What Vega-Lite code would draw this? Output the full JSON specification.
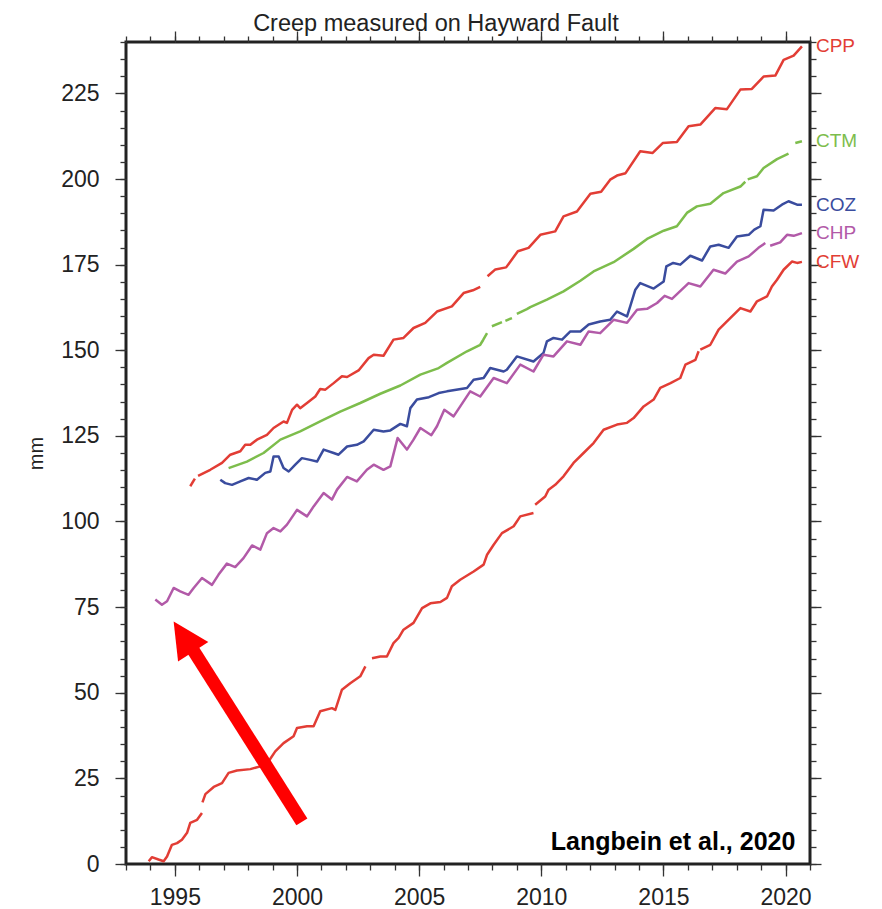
{
  "$schema": "https://vega.github.io/schema/vega-lite/v6.json",
  "width": 684,
  "height": 822,
  "autosize": "none",
  "padding": {"left": 126, "top": 42, "right": 72, "bottom": 45},
  "background": "white",
  "title": {"text": "Creep measured on Hayward Fault", "font": "Liberation Sans", "fontSize": 23.5, "fontWeight": "normal", "color": "#222222", "anchor": "middle", "frame": "group", "dx": -32, "offset": -5},
  "config": {
    "view": {"stroke": "#222222", "strokeWidth": 3},
    "axis": {"domain": false, "grid": false, "tickColor": "#333333", "tickWidth": 1.3, "labelFont": "Liberation Sans", "labelFontSize": 23, "labelColor": "#222222", "labelOverlap": false, "labelFlush": false, "titleFont": "Liberation Sans", "titleFontSize": 20, "titleFontWeight": "normal", "titleColor": "#222222"}
  },
  "datasets": {
    "creep": [
      {"s":"CPP","g":"CPP1","x":1995.63,"y":110.3},{"s":"CPP","g":"CPP1","x":1995.82,"y":112.5},
      {"s":"CPP","g":"CPP2","x":1995.95,"y":113.3},{"s":"CPP","g":"CPP2","x":1996.45,"y":115.1},{"s":"CPP","g":"CPP2","x":1996.93,"y":117.1},{"s":"CPP","g":"CPP2","x":1997.27,"y":119.5},{"s":"CPP","g":"CPP2","x":1997.68,"y":120.5},{"s":"CPP","g":"CPP2","x":1997.88,"y":122.4},{"s":"CPP","g":"CPP2","x":1998.09,"y":122.4},{"s":"CPP","g":"CPP2","x":1998.36,"y":123.9},{"s":"CPP","g":"CPP2","x":1998.77,"y":125.3},{"s":"CPP","g":"CPP2","x":1999.04,"y":127.3},{"s":"CPP","g":"CPP2","x":1999.45,"y":129.2},{"s":"CPP","g":"CPP2","x":1999.59,"y":128.8},{"s":"CPP","g":"CPP2","x":1999.8,"y":132.6},{"s":"CPP","g":"CPP2","x":2000.0,"y":134.1},{"s":"CPP","g":"CPP2","x":2000.13,"y":133.1},{"s":"CPP","g":"CPP2","x":2000.41,"y":134.6},{"s":"CPP","g":"CPP2","x":2000.75,"y":136.5},{"s":"CPP","g":"CPP2","x":2000.95,"y":138.7},{"s":"CPP","g":"CPP2","x":2001.16,"y":138.5},{"s":"CPP","g":"CPP2","x":2001.5,"y":140.4},{"s":"CPP","g":"CPP2","x":2001.84,"y":142.4},{"s":"CPP","g":"CPP2","x":2002.05,"y":142.2},{"s":"CPP","g":"CPP2","x":2002.52,"y":144.1},{"s":"CPP","g":"CPP2","x":2002.93,"y":147.7},{"s":"CPP","g":"CPP2","x":2003.14,"y":148.7},{"s":"CPP","g":"CPP2","x":2003.54,"y":148.4},{"s":"CPP","g":"CPP2","x":2003.95,"y":153.1},{"s":"CPP","g":"CPP2","x":2004.36,"y":153.6},{"s":"CPP","g":"CPP2","x":2004.77,"y":156.5},{"s":"CPP","g":"CPP2","x":2005.25,"y":158.0},{"s":"CPP","g":"CPP2","x":2005.73,"y":161.3},{"s":"CPP","g":"CPP2","x":2006.34,"y":162.8},{"s":"CPP","g":"CPP2","x":2006.82,"y":166.7},{"s":"CPP","g":"CPP2","x":2007.2,"y":167.5},{"s":"CPP","g":"CPP2","x":2007.5,"y":168.5},
      {"s":"CPP","g":"CPP3","x":2007.8,"y":171.6},{"s":"CPP","g":"CPP3","x":2008.12,"y":173.6},{"s":"CPP","g":"CPP3","x":2008.56,"y":174.2},{"s":"CPP","g":"CPP3","x":2009.04,"y":178.9},{"s":"CPP","g":"CPP3","x":2009.48,"y":179.9},{"s":"CPP","g":"CPP3","x":2009.96,"y":183.7},{"s":"CPP","g":"CPP3","x":2010.57,"y":184.7},{"s":"CPP","g":"CPP3","x":2010.91,"y":189.1},{"s":"CPP","g":"CPP3","x":2011.46,"y":190.5},{"s":"CPP","g":"CPP3","x":2012.01,"y":195.7},{"s":"CPP","g":"CPP3","x":2012.45,"y":196.3},{"s":"CPP","g":"CPP3","x":2012.82,"y":199.8},{"s":"CPP","g":"CPP3","x":2013.1,"y":201.0},{"s":"CPP","g":"CPP3","x":2013.45,"y":201.7},{"s":"CPP","g":"CPP3","x":2014.05,"y":208.1},{"s":"CPP","g":"CPP3","x":2014.56,"y":207.6},{"s":"CPP","g":"CPP3","x":2014.97,"y":210.5},{"s":"CPP","g":"CPP3","x":2015.55,"y":210.8},{"s":"CPP","g":"CPP3","x":2016.03,"y":215.4},{"s":"CPP","g":"CPP3","x":2016.51,"y":215.9},{"s":"CPP","g":"CPP3","x":2017.12,"y":220.7},{"s":"CPP","g":"CPP3","x":2017.6,"y":220.4},{"s":"CPP","g":"CPP3","x":2018.15,"y":226.1},{"s":"CPP","g":"CPP3","x":2018.62,"y":226.3},{"s":"CPP","g":"CPP3","x":2019.1,"y":229.9},{"s":"CPP","g":"CPP3","x":2019.58,"y":230.2},{"s":"CPP","g":"CPP3","x":2019.92,"y":234.8},{"s":"CPP","g":"CPP3","x":2020.33,"y":236.0},{"s":"CPP","g":"CPP3","x":2020.67,"y":238.7},

      {"s":"CTM","g":"CTM1","x":1997.2,"y":115.6},{"s":"CTM","g":"CTM1","x":1997.95,"y":117.5},{"s":"CTM","g":"CTM1","x":1998.63,"y":120.0},{"s":"CTM","g":"CTM1","x":1999.32,"y":123.9},{"s":"CTM","g":"CTM1","x":2000.13,"y":126.3},{"s":"CTM","g":"CTM1","x":2000.95,"y":129.2},{"s":"CTM","g":"CTM1","x":2001.77,"y":132.1},{"s":"CTM","g":"CTM1","x":2002.59,"y":134.6},{"s":"CTM","g":"CTM1","x":2003.41,"y":137.3},{"s":"CTM","g":"CTM1","x":2004.23,"y":139.7},{"s":"CTM","g":"CTM1","x":2005.05,"y":142.9},{"s":"CTM","g":"CTM1","x":2005.8,"y":144.8},{"s":"CTM","g":"CTM1","x":2006.14,"y":146.3},{"s":"CTM","g":"CTM1","x":2006.96,"y":149.7},{"s":"CTM","g":"CTM1","x":2007.5,"y":151.6},{"s":"CTM","g":"CTM1","x":2007.62,"y":153.0},{"s":"CTM","g":"CTM1","x":2007.78,"y":155.0},
      {"s":"CTM","g":"CTM2","x":2007.98,"y":157.0},{"s":"CTM","g":"CTM2","x":2008.39,"y":158.2},
      {"s":"CTM","g":"CTM3","x":2008.53,"y":158.6},{"s":"CTM","g":"CTM3","x":2008.8,"y":159.4},
      {"s":"CTM","g":"CTM4","x":2009.0,"y":160.6},{"s":"CTM","g":"CTM4","x":2009.41,"y":162.0},{"s":"CTM","g":"CTM4","x":2009.55,"y":162.6},{"s":"CTM","g":"CTM4","x":2010.23,"y":164.8},{"s":"CTM","g":"CTM4","x":2010.91,"y":167.2},{"s":"CTM","g":"CTM4","x":2011.6,"y":170.3},{"s":"CTM","g":"CTM4","x":2012.14,"y":173.0},{"s":"CTM","g":"CTM4","x":2012.96,"y":175.7},{"s":"CTM","g":"CTM4","x":2013.78,"y":179.6},{"s":"CTM","g":"CTM4","x":2014.33,"y":182.5},{"s":"CTM","g":"CTM4","x":2015.01,"y":184.9},{"s":"CTM","g":"CTM4","x":2015.55,"y":186.2},{"s":"CTM","g":"CTM4","x":2015.96,"y":190.1},{"s":"CTM","g":"CTM4","x":2016.37,"y":192.0},{"s":"CTM","g":"CTM4","x":2016.92,"y":192.8},{"s":"CTM","g":"CTM4","x":2017.46,"y":195.9},{"s":"CTM","g":"CTM4","x":2018.15,"y":197.8},{"s":"CTM","g":"CTM4","x":2018.35,"y":199.2},
      {"s":"CTM","g":"CTM5","x":2018.45,"y":199.9},{"s":"CTM","g":"CTM5","x":2018.83,"y":200.8},{"s":"CTM","g":"CTM5","x":2019.1,"y":203.2},{"s":"CTM","g":"CTM5","x":2019.65,"y":205.8},{"s":"CTM","g":"CTM5","x":2020.12,"y":207.4},
      {"s":"CTM","g":"CTM6","x":2020.4,"y":210.5},{"s":"CTM","g":"CTM6","x":2020.67,"y":211.0},

      {"s":"COZ","g":"COZ1","x":1996.86,"y":112.2},{"s":"COZ","g":"COZ1","x":1997.06,"y":111.2},{"s":"COZ","g":"COZ1","x":1997.34,"y":110.7},{"s":"COZ","g":"COZ1","x":1997.68,"y":111.7},{"s":"COZ","g":"COZ1","x":1998.02,"y":112.7},{"s":"COZ","g":"COZ1","x":1998.36,"y":112.2},{"s":"COZ","g":"COZ1","x":1998.7,"y":114.2},{"s":"COZ","g":"COZ1","x":1998.91,"y":114.6},{"s":"COZ","g":"COZ1","x":1999.04,"y":119.0},{"s":"COZ","g":"COZ1","x":1999.25,"y":119.0},{"s":"COZ","g":"COZ1","x":1999.45,"y":115.6},{"s":"COZ","g":"COZ1","x":1999.66,"y":114.6},{"s":"COZ","g":"COZ1","x":1999.93,"y":116.6},{"s":"COZ","g":"COZ1","x":2000.2,"y":118.5},{"s":"COZ","g":"COZ1","x":2000.54,"y":118.0},{"s":"COZ","g":"COZ1","x":2000.82,"y":117.5},{"s":"COZ","g":"COZ1","x":2001.09,"y":121.0},{"s":"COZ","g":"COZ1","x":2001.5,"y":120.0},{"s":"COZ","g":"COZ1","x":2001.7,"y":119.5},{"s":"COZ","g":"COZ1","x":2002.05,"y":121.9},{"s":"COZ","g":"COZ1","x":2002.45,"y":122.4},{"s":"COZ","g":"COZ1","x":2002.73,"y":123.4},{"s":"COZ","g":"COZ1","x":2003.14,"y":126.8},{"s":"COZ","g":"COZ1","x":2003.54,"y":126.3},{"s":"COZ","g":"COZ1","x":2003.82,"y":126.6},{"s":"COZ","g":"COZ1","x":2004.23,"y":128.5},{"s":"COZ","g":"COZ1","x":2004.5,"y":127.8},{"s":"COZ","g":"COZ1","x":2004.64,"y":133.1},{"s":"COZ","g":"COZ1","x":2004.91,"y":135.6},{"s":"COZ","g":"COZ1","x":2005.4,"y":136.3},{"s":"COZ","g":"COZ1","x":2005.8,"y":137.5},{"s":"COZ","g":"COZ1","x":2006.14,"y":138.0},{"s":"COZ","g":"COZ1","x":2006.96,"y":139.0},{"s":"COZ","g":"COZ1","x":2007.23,"y":141.4},{"s":"COZ","g":"COZ1","x":2007.64,"y":141.9},{"s":"COZ","g":"COZ1","x":2007.91,"y":144.8},{"s":"COZ","g":"COZ1","x":2008.46,"y":143.8},{"s":"COZ","g":"COZ1","x":2008.59,"y":144.3},{"s":"COZ","g":"COZ1","x":2009.0,"y":148.2},{"s":"COZ","g":"COZ1","x":2009.68,"y":146.7},{"s":"COZ","g":"COZ1","x":2010.09,"y":149.2},{"s":"COZ","g":"COZ1","x":2010.23,"y":152.6},{"s":"COZ","g":"COZ1","x":2010.5,"y":153.6},{"s":"COZ","g":"COZ1","x":2010.85,"y":153.1},{"s":"COZ","g":"COZ1","x":2011.19,"y":155.5},{"s":"COZ","g":"COZ1","x":2011.6,"y":155.5},{"s":"COZ","g":"COZ1","x":2011.94,"y":157.5},{"s":"COZ","g":"COZ1","x":2012.41,"y":158.4},{"s":"COZ","g":"COZ1","x":2012.82,"y":158.9},{"s":"COZ","g":"COZ1","x":2013.1,"y":161.3},{"s":"COZ","g":"COZ1","x":2013.51,"y":159.9},{"s":"COZ","g":"COZ1","x":2013.64,"y":162.8},{"s":"COZ","g":"COZ1","x":2013.85,"y":167.7},{"s":"COZ","g":"COZ1","x":2014.05,"y":169.6},{"s":"COZ","g":"COZ1","x":2014.6,"y":168.0},{"s":"COZ","g":"COZ1","x":2015.01,"y":170.1},{"s":"COZ","g":"COZ1","x":2015.12,"y":174.5},{"s":"COZ","g":"COZ1","x":2015.4,"y":175.5},{"s":"COZ","g":"COZ1","x":2015.69,"y":175.0},{"s":"COZ","g":"COZ1","x":2016.1,"y":177.6},{"s":"COZ","g":"COZ1","x":2016.58,"y":176.2},{"s":"COZ","g":"COZ1","x":2016.92,"y":180.3},{"s":"COZ","g":"COZ1","x":2017.26,"y":180.8},{"s":"COZ","g":"COZ1","x":2017.67,"y":179.9},{"s":"COZ","g":"COZ1","x":2018.01,"y":183.2},{"s":"COZ","g":"COZ1","x":2018.49,"y":183.7},{"s":"COZ","g":"COZ1","x":2018.72,"y":185.2},{"s":"COZ","g":"COZ1","x":2018.97,"y":186.2},{"s":"COZ","g":"COZ1","x":2019.1,"y":191.0},{"s":"COZ","g":"COZ1","x":2019.51,"y":190.8},{"s":"COZ","g":"COZ1","x":2019.85,"y":192.5},{"s":"COZ","g":"COZ1","x":2020.12,"y":193.5},{"s":"COZ","g":"COZ1","x":2020.47,"y":192.5},{"s":"COZ","g":"COZ1","x":2020.67,"y":192.5},

      {"s":"CHP","g":"CHP1","x":1994.2,"y":77.2},{"s":"CHP","g":"CHP1","x":1994.47,"y":75.7},{"s":"CHP","g":"CHP1","x":1994.68,"y":76.7},{"s":"CHP","g":"CHP1","x":1994.95,"y":80.6},{"s":"CHP","g":"CHP1","x":1995.22,"y":79.6},{"s":"CHP","g":"CHP1","x":1995.56,"y":78.6},{"s":"CHP","g":"CHP1","x":1995.77,"y":80.6},{"s":"CHP","g":"CHP1","x":1996.11,"y":83.5},{"s":"CHP","g":"CHP1","x":1996.52,"y":81.5},{"s":"CHP","g":"CHP1","x":1996.79,"y":84.5},{"s":"CHP","g":"CHP1","x":1997.13,"y":87.7},{"s":"CHP","g":"CHP1","x":1997.47,"y":86.7},{"s":"CHP","g":"CHP1","x":1997.81,"y":89.3},{"s":"CHP","g":"CHP1","x":1998.16,"y":93.0},{"s":"CHP","g":"CHP1","x":1998.5,"y":91.8},{"s":"CHP","g":"CHP1","x":1998.77,"y":96.6},{"s":"CHP","g":"CHP1","x":1999.04,"y":98.1},{"s":"CHP","g":"CHP1","x":1999.32,"y":97.1},{"s":"CHP","g":"CHP1","x":1999.59,"y":99.1},{"s":"CHP","g":"CHP1","x":2000.0,"y":103.4},{"s":"CHP","g":"CHP1","x":2000.41,"y":101.5},{"s":"CHP","g":"CHP1","x":2000.68,"y":104.4},{"s":"CHP","g":"CHP1","x":2001.09,"y":108.3},{"s":"CHP","g":"CHP1","x":2001.43,"y":106.4},{"s":"CHP","g":"CHP1","x":2001.64,"y":109.3},{"s":"CHP","g":"CHP1","x":2002.05,"y":113.0},{"s":"CHP","g":"CHP1","x":2002.45,"y":111.7},{"s":"CHP","g":"CHP1","x":2002.86,"y":115.1},{"s":"CHP","g":"CHP1","x":2003.14,"y":116.6},{"s":"CHP","g":"CHP1","x":2003.54,"y":115.1},{"s":"CHP","g":"CHP1","x":2003.82,"y":116.1},{"s":"CHP","g":"CHP1","x":2004.12,"y":124.4},{"s":"CHP","g":"CHP1","x":2004.5,"y":121.0},{"s":"CHP","g":"CHP1","x":2004.77,"y":123.9},{"s":"CHP","g":"CHP1","x":2005.05,"y":127.3},{"s":"CHP","g":"CHP1","x":2005.5,"y":125.2},{"s":"CHP","g":"CHP1","x":2005.73,"y":127.8},{"s":"CHP","g":"CHP1","x":2006.03,"y":132.6},{"s":"CHP","g":"CHP1","x":2006.41,"y":130.7},{"s":"CHP","g":"CHP1","x":2007.09,"y":138.0},{"s":"CHP","g":"CHP1","x":2007.5,"y":136.5},{"s":"CHP","g":"CHP1","x":2008.05,"y":141.9},{"s":"CHP","g":"CHP1","x":2008.59,"y":140.4},{"s":"CHP","g":"CHP1","x":2009.14,"y":145.8},{"s":"CHP","g":"CHP1","x":2009.68,"y":143.8},{"s":"CHP","g":"CHP1","x":2010.09,"y":148.7},{"s":"CHP","g":"CHP1","x":2010.5,"y":148.2},{"s":"CHP","g":"CHP1","x":2011.05,"y":152.6},{"s":"CHP","g":"CHP1","x":2011.6,"y":151.6},{"s":"CHP","g":"CHP1","x":2011.94,"y":155.5},{"s":"CHP","g":"CHP1","x":2012.41,"y":155.0},{"s":"CHP","g":"CHP1","x":2012.96,"y":158.9},{"s":"CHP","g":"CHP1","x":2013.51,"y":158.0},{"s":"CHP","g":"CHP1","x":2013.92,"y":161.8},{"s":"CHP","g":"CHP1","x":2014.33,"y":162.1},{"s":"CHP","g":"CHP1","x":2014.74,"y":163.8},{"s":"CHP","g":"CHP1","x":2015.05,"y":165.9},{"s":"CHP","g":"CHP1","x":2015.35,"y":165.0},{"s":"CHP","g":"CHP1","x":2016.03,"y":169.6},{"s":"CHP","g":"CHP1","x":2016.51,"y":168.6},{"s":"CHP","g":"CHP1","x":2017.05,"y":173.5},{"s":"CHP","g":"CHP1","x":2017.53,"y":172.4},{"s":"CHP","g":"CHP1","x":2018.01,"y":175.9},{"s":"CHP","g":"CHP1","x":2018.49,"y":177.4},{"s":"CHP","g":"CHP1","x":2018.89,"y":179.9},{"s":"CHP","g":"CHP1","x":2019.17,"y":181.3},
      {"s":"CHP","g":"CHP2","x":2019.37,"y":180.5},{"s":"CHP","g":"CHP2","x":2019.78,"y":181.5},{"s":"CHP","g":"CHP2","x":2020.06,"y":183.7},{"s":"CHP","g":"CHP2","x":2020.33,"y":183.4},{"s":"CHP","g":"CHP2","x":2020.67,"y":184.2},

      {"s":"CFW","g":"CFW1","x":1993.93,"y":0.8},{"s":"CFW","g":"CFW1","x":1994.06,"y":2.0},{"s":"CFW","g":"CFW1","x":1994.33,"y":1.3},{"s":"CFW","g":"CFW1","x":1994.54,"y":0.8},{"s":"CFW","g":"CFW1","x":1994.68,"y":2.2},{"s":"CFW","g":"CFW1","x":1994.88,"y":5.6},{"s":"CFW","g":"CFW1","x":1995.09,"y":6.1},{"s":"CFW","g":"CFW1","x":1995.29,"y":7.1},{"s":"CFW","g":"CFW1","x":1995.5,"y":9.1},{"s":"CFW","g":"CFW1","x":1995.63,"y":12.0},{"s":"CFW","g":"CFW1","x":1995.91,"y":12.9},{"s":"CFW","g":"CFW1","x":1996.11,"y":14.9},
      {"s":"CFW","g":"CFW2","x":1996.13,"y":18.0},{"s":"CFW","g":"CFW2","x":1996.25,"y":20.4},{"s":"CFW","g":"CFW2","x":1996.59,"y":22.5},{"s":"CFW","g":"CFW2","x":1996.93,"y":23.6},{"s":"CFW","g":"CFW2","x":1997.2,"y":26.6},{"s":"CFW","g":"CFW2","x":1997.54,"y":27.3},{"s":"CFW","g":"CFW2","x":1998.09,"y":27.7},{"s":"CFW","g":"CFW2","x":1998.5,"y":28.5},{"s":"CFW","g":"CFW2","x":1998.84,"y":30.0},{"s":"CFW","g":"CFW2","x":1999.11,"y":32.9},{"s":"CFW","g":"CFW2","x":1999.45,"y":35.3},{"s":"CFW","g":"CFW2","x":1999.86,"y":37.3},{"s":"CFW","g":"CFW2","x":2000.0,"y":39.7},{"s":"CFW","g":"CFW2","x":2000.41,"y":40.2},{"s":"CFW","g":"CFW2","x":2000.68,"y":40.2},{"s":"CFW","g":"CFW2","x":2000.95,"y":44.6},{"s":"CFW","g":"CFW2","x":2001.43,"y":45.5},{"s":"CFW","g":"CFW2","x":2001.57,"y":45.0},{"s":"CFW","g":"CFW2","x":2001.84,"y":50.9},{"s":"CFW","g":"CFW2","x":2002.18,"y":52.8},{"s":"CFW","g":"CFW2","x":2002.59,"y":54.8},{"s":"CFW","g":"CFW2","x":2002.8,"y":57.7},
      {"s":"CFW","g":"CFW3","x":2003.07,"y":60.1},{"s":"CFW","g":"CFW3","x":2003.41,"y":60.6},{"s":"CFW","g":"CFW3","x":2003.68,"y":60.6},{"s":"CFW","g":"CFW3","x":2003.95,"y":64.5},{"s":"CFW","g":"CFW3","x":2004.16,"y":66.0},{"s":"CFW","g":"CFW3","x":2004.36,"y":68.4},{"s":"CFW","g":"CFW3","x":2004.77,"y":70.4},{"s":"CFW","g":"CFW3","x":2005.12,"y":74.7},{"s":"CFW","g":"CFW3","x":2005.46,"y":76.1},{"s":"CFW","g":"CFW3","x":2005.87,"y":76.5},{"s":"CFW","g":"CFW3","x":2006.14,"y":77.7},{"s":"CFW","g":"CFW3","x":2006.34,"y":81.1},{"s":"CFW","g":"CFW3","x":2006.68,"y":83.0},{"s":"CFW","g":"CFW3","x":2007.23,"y":85.4},{"s":"CFW","g":"CFW3","x":2007.64,"y":87.4},{"s":"CFW","g":"CFW3","x":2007.78,"y":90.3},{"s":"CFW","g":"CFW3","x":2008.05,"y":93.2},{"s":"CFW","g":"CFW3","x":2008.39,"y":96.6},{"s":"CFW","g":"CFW3","x":2008.87,"y":98.6},{"s":"CFW","g":"CFW3","x":2009.14,"y":101.5},{"s":"CFW","g":"CFW3","x":2009.68,"y":102.5},
      {"s":"CFW","g":"CFW4","x":2009.75,"y":104.9},{"s":"CFW","g":"CFW4","x":2010.16,"y":107.3},{"s":"CFW","g":"CFW4","x":2010.3,"y":109.3},{"s":"CFW","g":"CFW4","x":2010.57,"y":110.7},{"s":"CFW","g":"CFW4","x":2010.91,"y":113.2},{"s":"CFW","g":"CFW4","x":2011.32,"y":117.1},{"s":"CFW","g":"CFW4","x":2011.73,"y":120.0},{"s":"CFW","g":"CFW4","x":2012.14,"y":122.9},{"s":"CFW","g":"CFW4","x":2012.55,"y":126.8},{"s":"CFW","g":"CFW4","x":2013.1,"y":128.3},{"s":"CFW","g":"CFW4","x":2013.51,"y":128.8},{"s":"CFW","g":"CFW4","x":2013.78,"y":130.2},{"s":"CFW","g":"CFW4","x":2014.19,"y":133.6},{"s":"CFW","g":"CFW4","x":2014.6,"y":135.6},{"s":"CFW","g":"CFW4","x":2014.87,"y":139.0},{"s":"CFW","g":"CFW4","x":2015.29,"y":140.4},{"s":"CFW","g":"CFW4","x":2015.69,"y":141.9},{"s":"CFW","g":"CFW4","x":2015.9,"y":145.8},{"s":"CFW","g":"CFW4","x":2016.31,"y":147.2},{"s":"CFW","g":"CFW4","x":2016.44,"y":149.7},
      {"s":"CFW","g":"CFW5","x":2016.51,"y":150.2},{"s":"CFW","g":"CFW5","x":2016.92,"y":151.6},{"s":"CFW","g":"CFW5","x":2017.26,"y":156.0},{"s":"CFW","g":"CFW5","x":2017.6,"y":158.4},{"s":"CFW","g":"CFW5","x":2018.15,"y":162.3},{"s":"CFW","g":"CFW5","x":2018.56,"y":161.3},{"s":"CFW","g":"CFW5","x":2018.83,"y":164.3},{"s":"CFW","g":"CFW5","x":2019.24,"y":165.7},{"s":"CFW","g":"CFW5","x":2019.44,"y":168.6},{"s":"CFW","g":"CFW5","x":2019.65,"y":170.6},{"s":"CFW","g":"CFW5","x":2019.92,"y":173.5},{"s":"CFW","g":"CFW5","x":2020.26,"y":175.9},{"s":"CFW","g":"CFW5","x":2020.47,"y":175.5},{"s":"CFW","g":"CFW5","x":2020.67,"y":175.8}
    ]
  },
  "layer": [
    {
      "data": {"name": "creep"},
      "mark": {"type": "line", "strokeWidth": 2.5, "strokeJoin": "round", "strokeCap": "butt"},
      "encoding": {
        "x": {"field": "x", "type": "quantitative", "scale": {"domain": [1993, 2021], "nice": false, "zero": false},
              "axis": {"orient": "bottom", "values": [1995, 2000, 2005, 2010, 2015, 2020], "format": "d", "tickSize": 12, "labelPadding": 10, "title": null}},
        "y": {"field": "y", "type": "quantitative", "scale": {"domain": [0, 240], "nice": false, "zero": true},
              "axis": {"orient": "left", "values": [0, 25, 50, 75, 100, 125, 150, 175, 200, 225], "tickSize": 11, "labelPadding": 16, "title": "mm", "titlePadding": 14}},
        "color": {"field": "s", "type": "nominal", "legend": null,
                  "scale": {"domain": ["CPP", "CTM", "COZ", "CHP", "CFW"], "range": ["#e23d35", "#7dbd4c", "#3a4c9e", "#b25aa8", "#e23d35"]}},
        "detail": {"field": "g", "type": "nominal"}
      }
    },
    {
      "data": {"name": "creep"},
      "transform": [
        {"joinaggregate": [{"op": "max", "field": "x", "as": "xmax"}], "groupby": ["s"]},
        {"filter": "datum.x === datum.xmax"}
      ],
      "mark": {"type": "text", "align": "left", "baseline": "middle", "dx": 14, "font": "Liberation Sans", "fontSize": 19},
      "encoding": {
        "x": {"field": "x", "type": "quantitative", "scale": {"domain": [1993, 2021], "nice": false, "zero": false},
              "axis": {"orient": "bottom", "values": [1993,1994,1995,1996,1997,1998,1999,2000,2001,2002,2003,2004,2005,2006,2007,2008,2009,2010,2011,2012,2013,2014,2015,2016,2017,2018,2019,2020,2021], "tickSize": 6, "labels": false, "title": null}},
        "y": {"field": "y", "type": "quantitative", "scale": {"domain": [0, 240], "nice": false},
              "axis": {"orient": "left", "values": [0,5,10,15,20,25,30,35,40,45,50,55,60,65,70,75,80,85,90,95,100,105,110,115,120,125,130,135,140,145,150,155,160,165,170,175,180,185,190,195,200,205,210,215,220,225,230,235,240], "tickSize": 6, "labels": false, "title": null}},
        "text": {"field": "s", "type": "nominal"},
        "color": {"field": "s", "type": "nominal", "legend": null,
                  "scale": {"domain": ["CPP", "CTM", "COZ", "CHP", "CFW"], "range": ["#e23d35", "#7dbd4c", "#3a4c9e", "#b25aa8", "#e23d35"]}}
      }
    },
    {
      "data": {"values": [{}]},
      "mark": {"type": "rule", "color": "#ff0000", "strokeWidth": 13, "strokeCap": "butt"},
      "encoding": {
        "x": {"datum": 2000.2, "type": "quantitative", "scale": {"domain": [1993, 2021], "nice": false, "zero": false},
              "axis": {"orient": "top", "values": [1995, 2000, 2005, 2010, 2015, 2020], "tickSize": 11, "labels": false, "title": null}},
        "y": {"datum": 12.3, "type": "quantitative", "scale": {"domain": [0, 240], "nice": false},
              "axis": {"orient": "right", "values": [0, 25, 50, 75, 100, 125, 150, 175, 200, 225], "tickSize": 11, "labels": false, "title": null}},
        "x2": {"datum": 1995.7},
        "y2": {"datum": 63.0}
      }
    },
    {
      "data": {"values": [{}]},
      "mark": {"type": "point", "shape": "M0,-1L-1,1L1,1Z", "filled": true, "color": "#ff0000", "opacity": 1, "size": 1296, "angle": -32.9, "strokeWidth": 0},
      "encoding": {
        "x": {"datum": 1995.35, "type": "quantitative", "scale": {"domain": [1993, 2021], "nice": false, "zero": false},
              "axis": {"orient": "top", "values": [1993,1994,1995,1996,1997,1998,1999,2000,2001,2002,2003,2004,2005,2006,2007,2008,2009,2010,2011,2012,2013,2014,2015,2016,2017,2018,2019,2020,2021], "tickSize": 6, "labels": false, "title": null}},
        "y": {"datum": 66.4, "type": "quantitative", "scale": {"domain": [0, 240], "nice": false},
              "axis": {"orient": "right", "values": [0,5,10,15,20,25,30,35,40,45,50,55,60,65,70,75,80,85,90,95,100,105,110,115,120,125,130,135,140,145,150,155,160,165,170,175,180,185,190,195,200,205,210,215,220,225,230,235,240], "tickSize": 6, "labels": false, "title": null}}
      }
    },
    {
      "data": {"values": [{"label": "Langbein et al., 2020"}]},
      "mark": {"type": "text", "align": "right", "baseline": "alphabetic", "font": "Liberation Sans", "fontWeight": "bold", "fontSize": 25, "color": "#000000"},
      "encoding": {
        "x": {"datum": 2020.4, "type": "quantitative", "axis": null},
        "y": {"datum": 4.0, "type": "quantitative", "axis": null},
        "text": {"field": "label", "type": "nominal"}
      }
    }
  ],
  "resolve": {"axis": {"x": "independent", "y": "independent"}}
}
